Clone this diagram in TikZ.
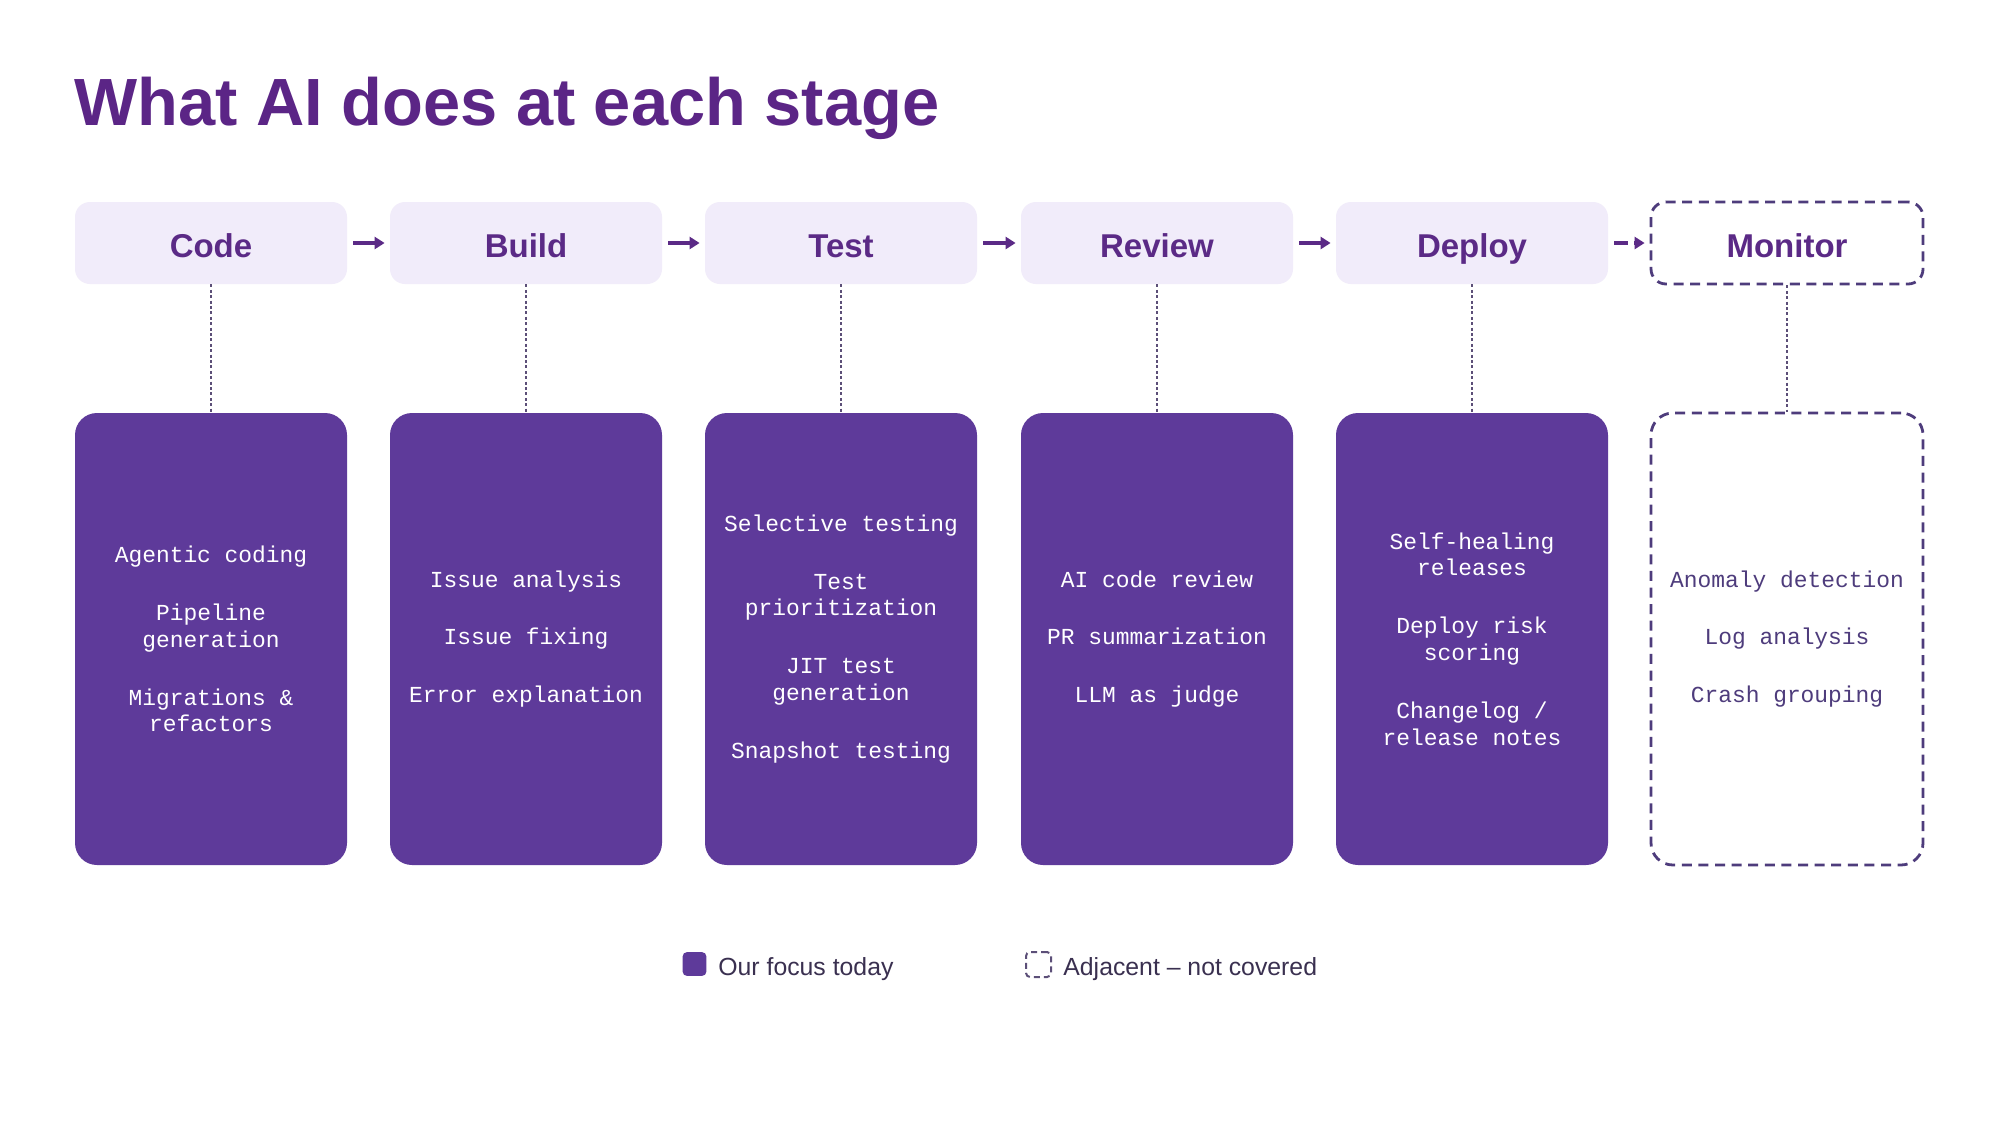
\documentclass[tikz,border=0pt]{standalone}
\usepackage{fontspec}
\setmainfont{Liberation Sans}
\newfontfamily\monofont{Liberation Mono}
\usetikzlibrary{arrows.meta}
\definecolor{titlec}{HTML}{5B2586}
\definecolor{stagec}{HTML}{5B2A86}
\definecolor{stagefill}{HTML}{F1ECFA}
\definecolor{focusfill}{HTML}{5E3A9A}
\definecolor{adjc}{HTML}{4E3C7C}
\definecolor{dotc}{HTML}{5C4F78}
\definecolor{legc}{HTML}{3A3050}
\newcommand{\itemgap}{\\[15.6pt]}
\tikzset{
  stagebox/.style={rounded corners=7.5pt, minimum width=136pt, minimum height=41pt,
    inner sep=0pt, text height=14.6pt, text depth=0pt, text=stagec,
    font=\fontsize{16.5pt}{19pt}\selectfont\bfseries},
  stagefocus/.style={stagebox, fill=stagefill},
  stageadj/.style={stagebox, draw=adjc, line width=1.4pt, dash pattern=on 5pt off 3.3pt, fill=white},
  focusbox/.style={rounded corners=11pt, minimum width=136pt, minimum height=226pt, inner sep=0pt, fill=focusfill},
  adjbox/.style={rounded corners=11pt, minimum width=136pt, minimum height=226pt, inner sep=0pt,
    draw=adjc, line width=1.4pt, dash pattern=on 5pt off 3.3pt, fill=white},
  itemtext/.style={align=center, inner sep=0pt, font=\monofont\fontsize{11.45pt}{13.35pt}\selectfont},
  dotline/.style={draw=dotc, line width=0.7pt, dash pattern=on 1.5pt off 1.2pt},
  flowarrow/.style={draw=stagec, line width=1.7pt, -{Triangle[length=5pt,width=6pt]}},
  flowdash/.style={flowarrow, dash pattern=on 7pt off 3pt},
}
\begin{document}
\begin{tikzpicture}[x=0.5pt,y=-0.5pt]
\useasboundingbox[fill=white] (0,0) rectangle (2001,1125);

\node[anchor=base west, inner sep=0pt, text=titlec, font=\fontsize{33.4pt}{40pt}\selectfont\bfseries] (title) at (74,125) {What AI does at each stage};

% stage boxes
\node[stagefocus] (s1) at (211,243) {Code};
\node[stagefocus] (s2) at (526,243) {Build};
\node[stagefocus] (s3) at (841,243) {Test};
\node[stagefocus] (s4) at (1157,243) {Review};
\node[stagefocus] (s5) at (1472,243) {Deploy};
\node[stageadj] (s6) at (1787,243) {Monitor};

% arrows
\draw[flowarrow] ([xshift=3pt]s1.east) -- ([xshift=-2.5pt]s2.west);
\draw[flowarrow] ([xshift=3pt]s2.east) -- ([xshift=-2.5pt]s3.west);
\draw[flowarrow] ([xshift=3pt]s3.east) -- ([xshift=-2.5pt]s4.west);
\draw[flowarrow] ([xshift=3pt]s4.east) -- ([xshift=-2.5pt]s5.west);
\draw[flowdash] ([xshift=3pt]s5.east) -- ([xshift=-2.5pt]s6.west);

% detail boxes
\node[focusbox] (b1) at (211,639) {};
\node[focusbox] (b2) at (526,639) {};
\node[focusbox] (b3) at (841,639) {};
\node[focusbox] (b4) at (1157,639) {};
\node[focusbox] (b5) at (1472,639) {};
\node[adjbox] (b6) at (1787,639) {};

% dotted connectors
\foreach \i in {1,...,6} {\draw[dotline] (s\i.south) -- (b\i.north);}

% texts
\node[itemtext, text=white] (t1) at (b1.center) {Agentic coding\itemgap Pipeline\\generation\itemgap Migrations \&\\refactors};
\node[itemtext, text=white] (t2) at (b2.center) {Issue analysis\itemgap Issue fixing\itemgap Error explanation};
\node[itemtext, text=white] (t3) at (b3.center) {Selective testing\itemgap Test\\prioritization\itemgap JIT test\\generation\itemgap Snapshot testing};
\node[itemtext, text=white] (t4) at (b4.center) {AI code review\itemgap PR summarization\itemgap LLM as judge};
\node[itemtext, text=white] (t5) at (b5.center) {Self-healing\\releases\itemgap Deploy risk\\scoring\itemgap Changelog /\\release notes};
\node[itemtext, text=adjc] (t6) at (b6.center) {Anomaly detection\itemgap Log analysis\itemgap Crash grouping};

% legend
\node[fill=focusfill, rounded corners=2pt, minimum size=11.8pt, inner sep=0pt] (lg1) at (694.5,964) {};
\node[anchor=base west, inner sep=0pt, text=legc, font=\fontsize{12.4pt}{15pt}\selectfont] (lt1) at (718,975) {Our focus today};
\node[draw=dotc, line width=1pt, dash pattern=on 3pt off 2pt, rounded corners=2pt, minimum size=12.5pt, inner sep=0pt] (lg2) at (1038.5,964.5) {};
\node[anchor=base west, inner sep=0pt, text=legc, font=\fontsize{12.4pt}{15pt}\selectfont] (lt2) at (1063,975) {Adjacent -- not covered};
\end{tikzpicture}
\end{document}
